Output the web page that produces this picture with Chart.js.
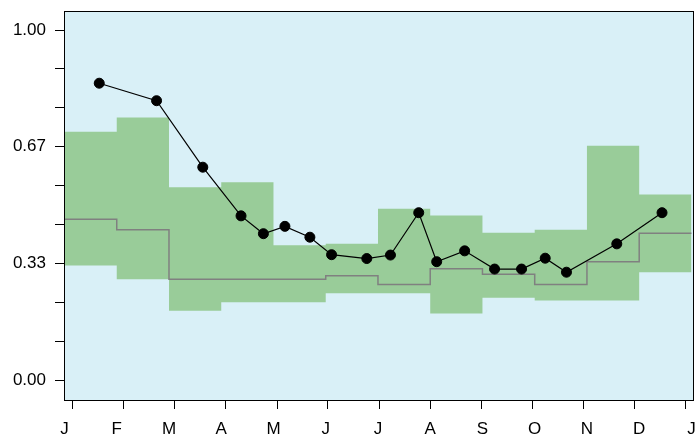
<!DOCTYPE html>
<html>
<head>
<meta charset="utf-8">
<script src="https://cdn.jsdelivr.net/npm/chart.js@4/dist/chart.umd.min.js"></script>
<style>
    body { margin: 0; background: #ffffff; }
    canvas { display: block; }
</style>
</head>
<body>
<canvas id="seasonChart" width="700" height="439"></canvas>
<script>
// =========================================
// Data (x in months from start of year)
// =========================================
const monthLabels = ["J", "F", "M", "A", "M", "J", "J", "A", "S", "O", "N", "D", "J"];
const monthEdges = [0, 1, 2, 3, 4, 5, 6, 7, 8, 9, 10, 11, 12];
const tickPositions = [0.16, 1.13, 2.11, 3.09, 4.07, 5.04, 6.02, 7.0, 7.98, 8.95, 9.93, 10.91, 11.88];

const bandUpper = [0.709, 0.75, 0.551, 0.565, 0.385, 0.389, 0.489, 0.47, 0.421, 0.429, 0.669, 0.53];
const bandLower = [0.327, 0.288, 0.198, 0.222, 0.222, 0.248, 0.248, 0.19, 0.235, 0.227, 0.227, 0.308];
const bandMedian = [0.459, 0.429, 0.288, 0.288, 0.288, 0.298, 0.273, 0.318, 0.302, 0.273, 0.338, 0.419];

const obsX = [0.665, 1.762, 2.647, 3.379, 3.807, 4.219, 4.697, 5.112, 5.786, 6.239,
    6.78, 7.124, 7.659, 8.232, 8.748, 9.201, 9.608, 10.571, 11.437];
const obsY = [0.848, 0.798, 0.608, 0.469, 0.418, 0.439, 0.408, 0.358, 0.347, 0.357,
    0.478, 0.338, 0.369, 0.317, 0.317, 0.348, 0.308, 0.389, 0.478];

const yTickValues = [0, 0.111, 0.222, 0.333, 0.444, 0.556, 0.667, 0.778, 0.889, 1];
const yTickLabels = ["0.00", "", "", "0.33", "", "", "0.67", "", "", "1.00"];

// step series: one point per month edge, last value repeated
function stepPoints(values) {
    return monthEdges.map((x, i) => ({ x: x, y: values[Math.min(i, values.length - 1)] }));
}

// keep axes from reserving room for overhanging labels
function noEdgePadding(scale) {
    scale.paddingTop = 0;
    scale.paddingBottom = 0;
    scale.paddingLeft = 0;
    scale.paddingRight = 0;
}

// light blue panel + black frame
const plotFrame = {
    id: "plotFrame",
    beforeDraw(chart) {
        const a = chart.chartArea;
        const ctx = chart.ctx;
        ctx.save();
        ctx.fillStyle = "#d9f0f7";
        ctx.fillRect(a.left, a.top, a.right - a.left, a.bottom - a.top);
        ctx.restore();
    },
    afterDraw(chart) {
        const a = chart.chartArea;
        const ctx = chart.ctx;
        ctx.save();
        ctx.strokeStyle = "#000000";
        ctx.lineWidth = 1;
        ctx.strokeRect(a.left + 0.5, a.top + 0.5, a.right - a.left - 1, a.bottom - a.top - 1);
        ctx.restore();
    },
};

document.addEventListener("DOMContentLoaded", function () {
    Chart.defaults.font.family = "'Liberation Sans', Arial, sans-serif";
    Chart.defaults.font.size = 17;
    Chart.defaults.color = "#000000";

    const xMin = -0.0096;
    const xMax = 12.049;

    new Chart(document.getElementById("seasonChart"), {
        type: "line",
        data: {
            datasets: [
                {
                    label: "observed",
                    data: obsX.map((x, i) => ({ x: x, y: obsY[i] })),
                    borderColor: "#000000",
                    borderWidth: 1.2,
                    pointRadius: 5,
                    pointBackgroundColor: "#000000",
                    pointBorderColor: "#000000",
                    pointBorderWidth: 1,
                    fill: false,
                    order: 0,
                },
                {
                    label: "median",
                    data: stepPoints(bandMedian),
                    stepped: "before",
                    borderColor: "#808080",
                    borderWidth: 1.5,
                    pointRadius: 0,
                    fill: false,
                    order: 1,
                },
                {
                    label: "upper",
                    data: stepPoints(bandUpper),
                    stepped: "before",
                    borderColor: "rgba(0,0,0,0)",
                    backgroundColor: "#99cc99",
                    pointRadius: 0,
                    fill: "+1",
                    order: 2,
                },
                {
                    label: "lower",
                    data: stepPoints(bandLower),
                    stepped: "before",
                    borderColor: "rgba(0,0,0,0)",
                    pointRadius: 0,
                    fill: false,
                    order: 3,
                },
            ],
        },
        options: {
            responsive: false,
            animation: false,
            layout: { padding: { top: 11, right: 5, left: 0, bottom: 0 } },
            plugins: {
                legend: { display: false },
                tooltip: { enabled: false },
            },
            scales: {
                x: {
                    type: "linear",
                    position: "bottom",
                    weight: 0,
                    min: xMin,
                    max: xMax,
                    afterBuildTicks: (scale) => {
                        scale.ticks = tickPositions.map((v) => ({ value: v }));
                    },
                    afterFit: (scale) => {
                        scale.height = 8;
                        noEdgePadding(scale);
                    },
                    ticks: { display: false, autoSkip: false },
                    grid: { drawOnChartArea: false, tickLength: 8, color: "#000000" },
                    border: { display: false },
                },
                months: {
                    type: "linear",
                    position: "bottom",
                    weight: 1,
                    min: xMin,
                    max: xMax,
                    afterBuildTicks: (scale) => {
                        scale.ticks = monthEdges.map((v) => ({ value: v }));
                    },
                    afterFit: (scale) => {
                        scale.height = 30;
                        noEdgePadding(scale);
                    },
                    ticks: {
                        autoSkip: false,
                        maxRotation: 0,
                        minRotation: 0,
                        padding: 10,
                        callback: (v, i) => monthLabels[i],
                    },
                    grid: { display: false, drawTicks: false },
                    border: { display: false },
                },
                y: {
                    min: -0.06,
                    max: 1.0543,
                    afterBuildTicks: (scale) => {
                        scale.ticks = yTickValues.map((v) => ({ value: v }));
                    },
                    afterFit: (scale) => {
                        scale.width = 64;
                        noEdgePadding(scale);
                    },
                    ticks: {
                        padding: 9,
                        callback: (v, i) => yTickLabels[i],
                    },
                    grid: { drawOnChartArea: false, tickLength: 9, color: "#000000" },
                    border: { display: false },
                },
            },
        },
        plugins: [plotFrame],
    });
});
</script>
</body>
</html>
